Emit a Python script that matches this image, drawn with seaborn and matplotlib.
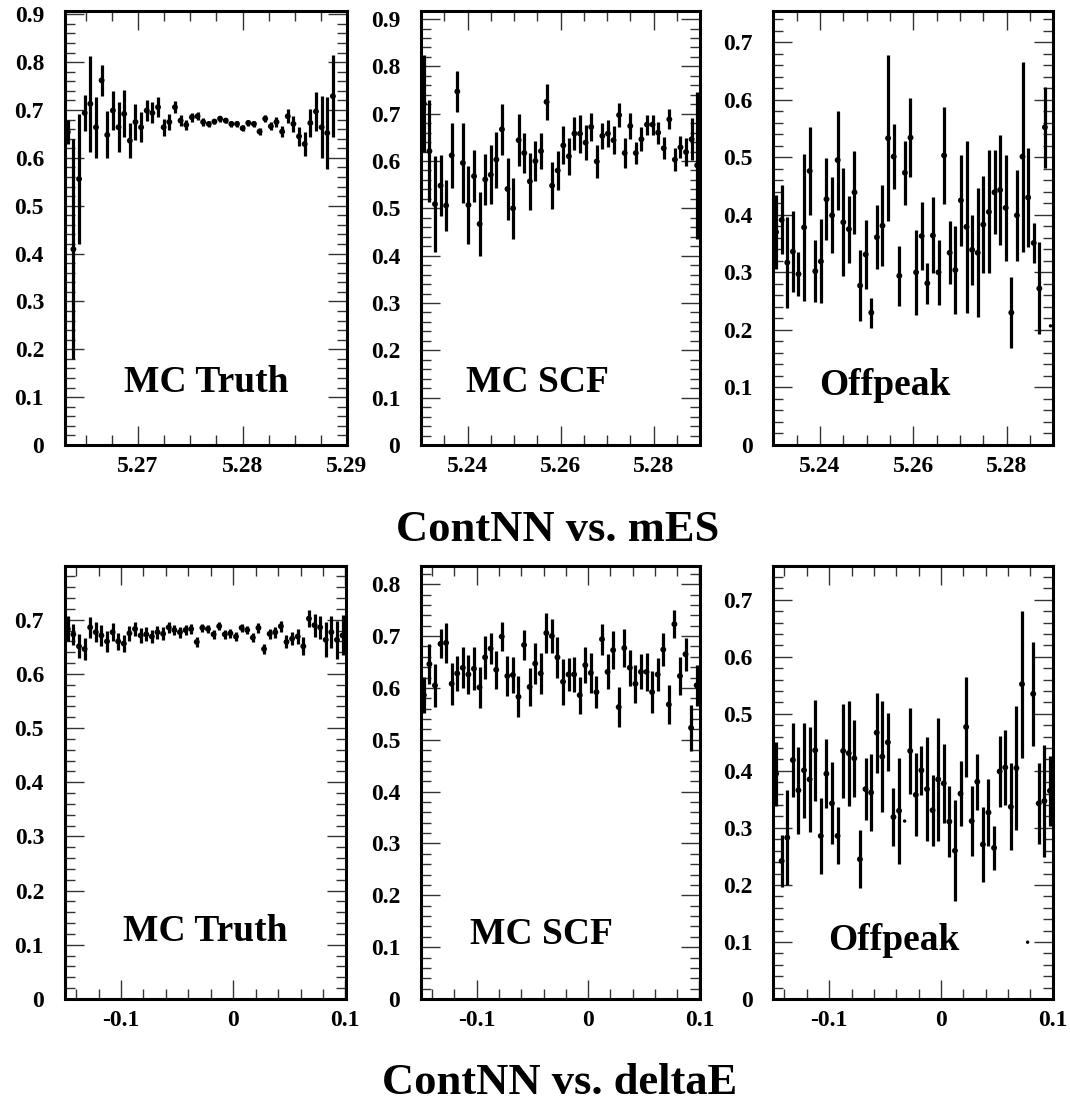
import numpy as np
import pandas as pd
import matplotlib
matplotlib.use("Agg")
import matplotlib.pyplot as plt
import seaborn as sns
from matplotlib.ticker import MultipleLocator, FuncFormatter

# ContNN profile values per bin (50 bins per histogram)
mes_truth_val = [0.654, 0.409, 0.556, 0.694, 0.713, 0.664, 0.762, 0.648, 0.699, 0.664,
                 0.692, 0.636, 0.675, 0.664, 0.699, 0.694, 0.706, 0.664, 0.675, 0.706,
                 0.678, 0.669, 0.685, 0.687, 0.675, 0.671, 0.676, 0.682, 0.678, 0.671,
                 0.671, 0.662, 0.673, 0.671, 0.655, 0.682, 0.666, 0.675, 0.655, 0.687,
                 0.671, 0.645, 0.629, 0.673, 0.697, 0.664, 0.652, 0.729]
mes_truth_err = [0.025, 0.23, 0.135, 0.037, 0.1, 0.064, 0.032, 0.049, 0.04, 0.052,
                 0.049, 0.036, 0.037, 0.031, 0.021, 0.022, 0.021, 0.018, 0.017, 0.012,
                 0.011, 0.010, 0.009, 0.008, 0.008, 0.007, 0.006, 0.006, 0.006, 0.006,
                 0.006, 0.006, 0.006, 0.006, 0.007, 0.007, 0.008, 0.010, 0.012, 0.015,
                 0.016, 0.020, 0.025, 0.030, 0.040, 0.065, 0.075, 0.085]

mes_scf_val = [0.721, 0.621, 0.509, 0.548, 0.506, 0.612, 0.747, 0.596, 0.507, 0.568,
               0.467, 0.561, 0.571, 0.603, 0.667, 0.541, 0.500, 0.644, 0.617, 0.557,
               0.600, 0.621, 0.725, 0.548, 0.580, 0.633, 0.610, 0.658, 0.658, 0.639,
               0.672, 0.599, 0.653, 0.658, 0.644, 0.697, 0.617, 0.674, 0.617, 0.646,
               0.677, 0.677, 0.660, 0.627, 0.688, 0.603, 0.629, 0.619, 0.646, 0.591]
mes_scf_err = [0.102, 0.108, 0.102, 0.065, 0.053, 0.068, 0.043, 0.085, 0.083, 0.055,
               0.068, 0.053, 0.062, 0.059, 0.054, 0.065, 0.064, 0.055, 0.042, 0.061,
               0.043, 0.038, 0.038, 0.050, 0.042, 0.040, 0.039, 0.034, 0.040, 0.037,
               0.029, 0.035, 0.027, 0.028, 0.029, 0.025, 0.031, 0.027, 0.024, 0.025,
               0.021, 0.021, 0.023, 0.023, 0.021, 0.024, 0.023, 0.029, 0.044, 0.155]

mes_off_val = [0.370, 0.391, 0.317, 0.336, 0.297, 0.378, 0.476, 0.302, 0.319, 0.427,
               0.399, 0.495, 0.387, 0.375, 0.439, 0.277, 0.331, 0.230, 0.361, 0.381,
               0.533, 0.501, 0.294, 0.473, 0.534, 0.300, 0.363, 0.281, 0.364, 0.300,
               0.503, 0.334, 0.304, 0.425, 0.379, 0.339, 0.334, 0.383, 0.405, 0.439,
               0.443, 0.412, 0.230, 0.399, 0.501, 0.430, 0.351, 0.272, 0.552, 0.207]
mes_off_err = [0.065, 0.060, 0.079, 0.070, 0.039, 0.127, 0.077, 0.054, 0.073, 0.071,
               0.066, 0.086, 0.094, 0.058, 0.072, 0.061, 0.060, 0.026, 0.056, 0.070,
               0.144, 0.057, 0.052, 0.056, 0.068, 0.074, 0.059, 0.036, 0.066, 0.057,
               0.084, 0.055, 0.076, 0.079, 0.149, 0.061, 0.112, 0.084, 0.107, 0.073,
               0.095, 0.092, 0.061, 0.079, 0.165, 0.086, 0.034, 0.080, 0.070, 0.0]

de_truth_val = [0.683, 0.673, 0.651, 0.646, 0.686, 0.677, 0.671, 0.660, 0.677, 0.660,
                0.656, 0.675, 0.683, 0.671, 0.673, 0.669, 0.677, 0.674, 0.686, 0.681,
                0.677, 0.681, 0.683, 0.659, 0.685, 0.683, 0.673, 0.688, 0.673, 0.675,
                0.669, 0.685, 0.681, 0.667, 0.685, 0.646, 0.674, 0.677, 0.688, 0.659,
                0.665, 0.669, 0.651, 0.702, 0.690, 0.686, 0.663, 0.677, 0.663, 0.671]
de_truth_err = [0.023, 0.020, 0.022, 0.020, 0.019, 0.019, 0.019, 0.019, 0.017, 0.016,
                0.016, 0.014, 0.013, 0.014, 0.013, 0.012, 0.012, 0.012, 0.010, 0.010,
                0.010, 0.010, 0.009, 0.009, 0.008, 0.008, 0.008, 0.007, 0.008, 0.008,
                0.008, 0.008, 0.008, 0.008, 0.009, 0.009, 0.009, 0.010, 0.010, 0.012,
                0.012, 0.014, 0.017, 0.016, 0.021, 0.021, 0.032, 0.029, 0.035, 0.037]

de_scf_val = [0.586, 0.646, 0.605, 0.685, 0.687, 0.608, 0.628, 0.639, 0.626, 0.637,
              0.601, 0.659, 0.676, 0.635, 0.699, 0.623, 0.625, 0.583, 0.683, 0.602,
              0.647, 0.628, 0.706, 0.700, 0.659, 0.612, 0.626, 0.626, 0.586, 0.644,
              0.629, 0.592, 0.694, 0.631, 0.673, 0.563, 0.677, 0.639, 0.608, 0.631,
              0.631, 0.592, 0.626, 0.674, 0.568, 0.723, 0.623, 0.665, 0.523, 0.605]
de_scf_err = [0.035, 0.039, 0.041, 0.028, 0.038, 0.040, 0.034, 0.040, 0.037, 0.041,
              0.039, 0.041, 0.029, 0.037, 0.028, 0.038, 0.035, 0.040, 0.029, 0.037,
              0.039, 0.039, 0.039, 0.032, 0.039, 0.044, 0.031, 0.034, 0.036, 0.035,
              0.039, 0.031, 0.030, 0.034, 0.036, 0.038, 0.036, 0.035, 0.037, 0.034,
              0.036, 0.040, 0.031, 0.032, 0.038, 0.027, 0.037, 0.032, 0.044, 0.040]

de_off_val = [0.395, 0.242, 0.283, 0.419, 0.366, 0.401, 0.385, 0.436, 0.286, 0.395,
              0.343, 0.286, 0.435, 0.431, 0.422, 0.245, 0.368, 0.362, 0.467, 0.425,
              0.450, 0.319, 0.330, 0.312, 0.435, 0.358, 0.401, 0.368, 0.331, 0.385,
              0.378, 0.311, 0.260, 0.360, 0.477, 0.312, 0.381, 0.271, 0.327, 0.265,
              0.399, 0.406, 0.337, 0.405, 0.552, 0.0996, 0.535, 0.343, 0.347, 0.365]
de_off_err = [0.056, 0.046, 0.083, 0.065, 0.076, 0.083, 0.092, 0.088, 0.066, 0.060,
              0.072, 0.050, 0.083, 0.092, 0.068, 0.051, 0.054, 0.067, 0.070, 0.098,
              0.051, 0.051, 0.093, 0.0, 0.075, 0.073, 0.043, 0.091, 0.062, 0.108,
              0.069, 0.062, 0.089, 0.057, 0.087, 0.062, 0.049, 0.066, 0.059, 0.038,
              0.062, 0.066, 0.076, 0.108, 0.129, 0.0, 0.091, 0.071, 0.098, 0.061]

n_bins = 50
mes_range = (5.263, 5.29)
mes_range_wide = (5.23, 5.29)
de_range = (-0.15, 0.1005)

sns.set_style("ticks")
plt.rcParams['font.family'] = ['Liberation Serif', 'DejaVu Serif']
plt.rcParams['font.weight'] = 'bold'
plt.rcParams['text.color'] = 'black'
plt.rcParams['xtick.color'] = 'black'
plt.rcParams['ytick.color'] = 'black'
plt.rcParams['axes.labelcolor'] = 'black'

fig = plt.figure(figsize=(10.7, 11.1), dpi=100)

panels = [
    dict(v=mes_truth_val, e=mes_truth_err, xr=mes_range, ytop=0.907, xmaj=0.01, xmin=0.0025,
         name='MC Truth', tx=0.5, ty=0.143, rect=[0.0607, 0.5991, 0.2636, 0.391]),
    dict(v=mes_scf_val, e=mes_scf_err, xr=mes_range_wide, ytop=0.917, xmaj=0.02, xmin=0.005,
         name='MC SCF', tx=0.416, ty=0.143, rect=[0.3935, 0.5991, 0.2607, 0.391]),
    dict(v=mes_off_val, e=mes_off_err, xr=mes_range_wide, ytop=0.754, xmaj=0.02, xmin=0.005,
         name='Offpeak', tx=0.40, ty=0.138, rect=[0.7227, 0.5991, 0.2617, 0.391]),
    dict(v=de_truth_val, e=de_truth_err, xr=de_range, ytop=0.799, xmaj=0.1, xmin=0.02,
         name='MC Truth', tx=0.5, ty=0.155, rect=[0.0607, 0.1, 0.2626, 0.39]),
    dict(v=de_scf_val, e=de_scf_err, xr=de_range, ytop=0.835, xmaj=0.1, xmin=0.02,
         name='MC SCF', tx=0.43, ty=0.15, rect=[0.3935, 0.1, 0.2607, 0.39]),
    dict(v=de_off_val, e=de_off_err, xr=de_range, ytop=0.759, xmaj=0.1, xmin=0.02,
         name='Offpeak', tx=0.43, ty=0.136, rect=[0.7227, 0.1, 0.2617, 0.39]),
]

fmt = FuncFormatter(lambda v, p: f'{round(v, 6) + 0.0:g}')

for p in panels:
    ax = fig.add_axes(p['rect'])
    lo, hi = p['xr']
    if hi > 0.1 and hi < 0.2:
        width = (0.1 - lo) / n_bins
    else:
        width = (hi - lo) / n_bins
    centers = lo + (np.arange(n_bins) + 0.5) * width
    df = pd.DataFrame({'x': centers[:len(p['v'])], 'y': p['v'], 'err': p['e']})
    df['size'] = np.where(df['err'] > 0, 18, 6)

    ax.vlines(df['x'], df['y'] - df['err'], df['y'] + df['err'], color='black', lw=2.3, zorder=2)
    sns.scatterplot(data=df, x='x', y='y', ax=ax, color='black', size='size',
                    sizes={18: 18, 6: 6}, legend=False, linewidth=0, zorder=3)

    ax.set_xlim(lo, hi)
    ax.set_ylim(0, p['ytop'])
    ax.set_xlabel('')
    ax.set_ylabel('')
    ax.xaxis.set_major_locator(MultipleLocator(p['xmaj']))
    ax.xaxis.set_minor_locator(MultipleLocator(p['xmin']))
    ax.yaxis.set_major_locator(MultipleLocator(0.1))
    ax.yaxis.set_minor_locator(MultipleLocator(0.02))
    ax.xaxis.set_major_formatter(fmt)
    ax.yaxis.set_major_formatter(fmt)
    ax.tick_params(which='both', direction='in', top=True, right=True, width=1, color='#333333',
                   labelcolor='black')
    ax.tick_params(which='major', length=13.5)
    ax.tick_params(which='minor', length=7)
    ax.tick_params(axis='y', which='major', pad=15, labelsize=17)
    ax.tick_params(axis='x', which='major', pad=8, labelsize=17)
    for lab in ax.get_xticklabels() + ax.get_yticklabels():
        lab.set_fontweight('bold')
    for s in ax.spines.values():
        s.set_linewidth(2.2)
        s.set_color('black')
    ax.text(p['tx'], p['ty'], p['name'], transform=ax.transAxes, ha='center', va='center',
            fontsize=27, fontweight='bold', color='black')

fig.text(0.5215, 0.5225, 'ContNN vs. mES', ha='center', va='center', fontsize=32,
         fontweight='bold', color='black')
fig.text(0.523, 0.0243, 'ContNN vs. deltaE', ha='center', va='center', fontsize=32,
         fontweight='bold', color='black')

fig.savefig('out.png', dpi=100, facecolor='white')
